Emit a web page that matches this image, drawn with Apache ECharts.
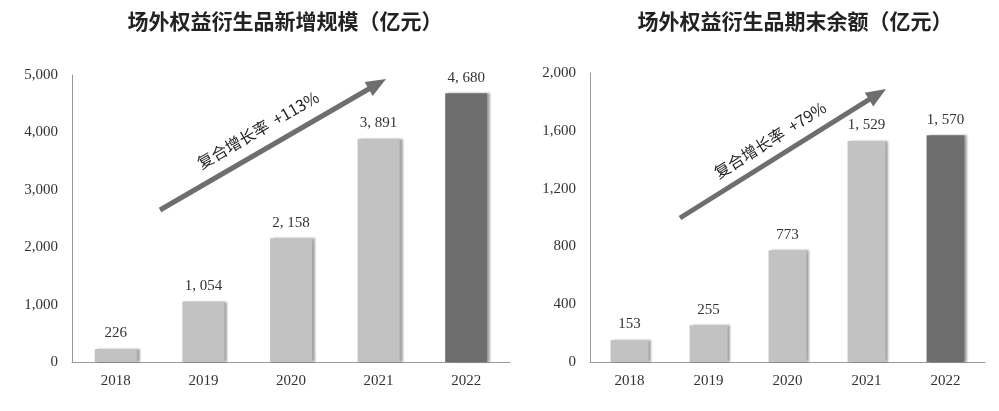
<!DOCTYPE html>
<html><head><meta charset="utf-8">
<script src="https://cdn.jsdelivr.net/npm/echarts@6/dist/echarts.min.js"></script>
<style>html,body{margin:0;background:#fff}#c{width:999px;height:411px}</style>
</head><body><div id="c"></div>
<script>
var years = ['2018', '2019', '2020', '2021', '2022'];
var newScale = [226, 1054, 2158, 3891, 4680];
var endBalance = [153, 255, 773, 1529, 1570];
var leftTicks = {max: 5000, interval: 1000};
var rightTicks = {max: 2000, interval: 400};

var chart = echarts.init(document.getElementById('c'));
var serif = 'Liberation Serif';
function fmt(v){ return String(v).replace(/\B(?=(\d{3})+(?!\d))/g, ', '); }

function yAxis(idx, t){
    return {
        gridIndex: idx, type: 'value', min: 0, max: t.max, interval: t.interval,
        axisLine: {show: true, lineStyle: {color: '#999'}},
        axisTick: {show: false}, splitLine: {show: false},
        axisLabel: {color: '#333', fontFamily: serif, fontSize: 15, margin: 14,
            formatter: function(v){ return String(v).replace(/\B(?=(\d{3})+(?!\d))/g, ','); }}
    };
}
function xAxis(idx){
    return {
        gridIndex: idx, type: 'category', data: years,
        axisLine: {lineStyle: {color: '#999'}}, axisTick: {show: false},
        axisLabel: {color: '#333', fontFamily: serif, fontSize: 15, margin: 12}
    };
}
function bars(idx, data){
    return {
        type: 'bar', xAxisIndex: idx, yAxisIndex: idx, barWidth: '48%',
        data: data.map(function(v, i){
            return {value: v, itemStyle: {color: i === data.length - 1 ? '#6e6e6e' : '#c2c2c2'}};
        }),
        itemStyle: {shadowColor: 'rgba(0,0,0,0.35)', shadowOffsetX: 3, shadowOffsetY: 0, shadowBlur: 2},
        label: {show: true, position: 'top', distance: 8, color: '#333', fontFamily: serif, fontSize: 15,
            formatter: function(p){ return fmt(p.value); }}
    };
}
function arrow(x1, y1, x2, y2, text, tx, ty){
    var ang = Math.atan2(y1 - y2, x2 - x1);
    return [
        {type: 'line', shape: {x1: x1, y1: y1, x2: x2 - 14 * Math.cos(ang), y2: y2 + 14 * Math.sin(ang)},
         style: {stroke: '#6e6e6e', lineWidth: 5}},
        {type: 'polygon', shape: {points: [
            [x2, y2],
            [x2 - 20 * Math.cos(ang) - 8 * Math.sin(ang), y2 + 20 * Math.sin(ang) - 8 * Math.cos(ang)],
            [x2 - 20 * Math.cos(ang) + 8 * Math.sin(ang), y2 + 20 * Math.sin(ang) + 8 * Math.cos(ang)]
        ]}, style: {fill: '#6e6e6e'}},
        {type: 'text', x: tx, y: ty, rotation: ang, style: {text: text, fill: '#222', fontSize: 16,
            fontFamily: 'Noto Sans CJK SC', align: 'center', verticalAlign: 'middle'}}
    ];
}

chart.setOption({
    animation: false,
    title: [
        {text: '场外权益衍生品新增规模（亿元）', left: 280, top: 6, textAlign: 'center',
         textStyle: {fontSize: 21, fontWeight: 'bold', color: '#222', fontFamily: 'Noto Sans CJK SC'}},
        {text: '场外权益衍生品期末余额（亿元）', left: 790, top: 6, textAlign: 'center',
         textStyle: {fontSize: 21, fontWeight: 'bold', color: '#222', fontFamily: 'Noto Sans CJK SC'}}
    ],
    grid: [
        {left: 72, right: 489, top: 75, bottom: 49},
        {left: 590, right: 14, top: 73, bottom: 49}
    ],
    xAxis: [xAxis(0), xAxis(1)],
    yAxis: [yAxis(0, leftTicks), yAxis(1, rightTicks)],
    series: [bars(0, newScale), bars(1, endBalance)],
    graphic: arrow(160, 210, 386, 79, '复合增长率  +113%', 258, 130)
        .concat(arrow(680, 218, 886, 89, '复合增长率  +79%', 770, 140))
});
</script></body></html>
